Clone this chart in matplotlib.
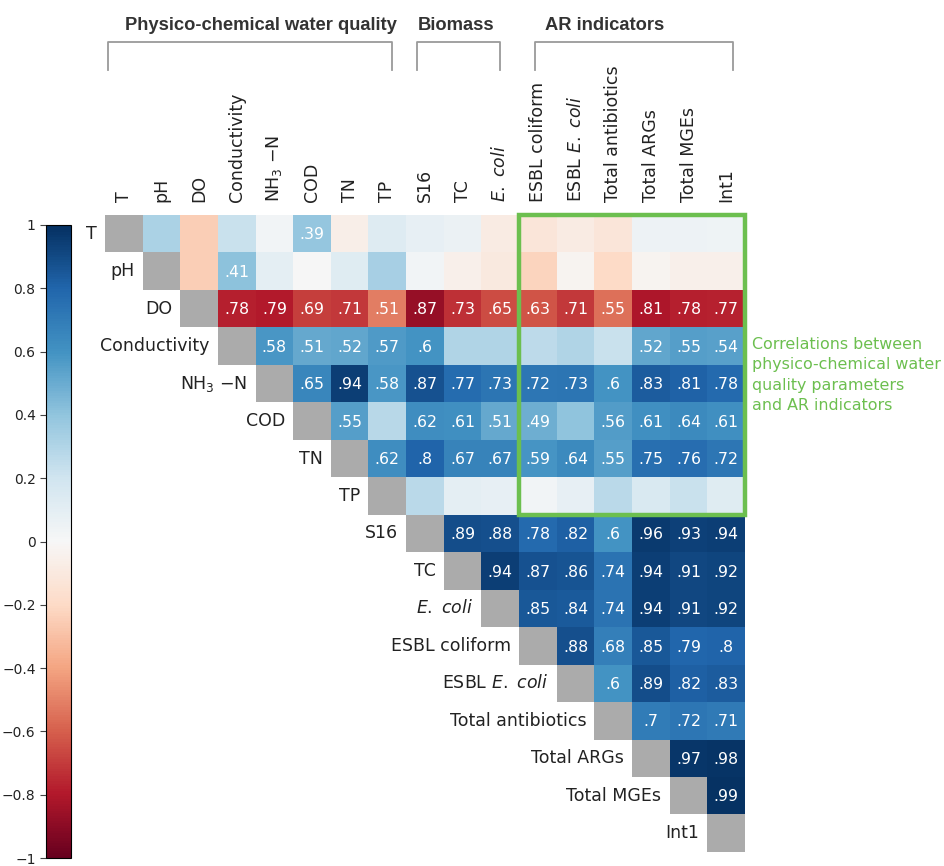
import numpy as np
import matplotlib
matplotlib.use("Agg")
import matplotlib.pyplot as plt
from matplotlib.colors import Normalize, ListedColormap

plt.rcParams['font.family'] = ['DejaVu Sans']
plt.rcParams['mathtext.fontset'] = 'custom'
plt.rcParams['mathtext.rm'] = 'DejaVu Sans'
plt.rcParams['mathtext.it'] = 'DejaVu Sans:italic'

# Variables (rows / columns of the correlation matrix)
variables = ["T", "pH", "DO", "Conductivity", "NH$_3$ \u2212N", "COD", "TN", "TP",
             "S16", "TC", r"$\it{E.}$ $\it{coli}$", "ESBL coliform", r"ESBL $\it{E.}$ $\it{coli}$",
             "Total antibiotics", "Total ARGs", "Total MGEs", "Int1"]

# Upper-triangle Spearman correlations, row by row (columns to the right of the diagonal)
r_T = [0.32, -0.25, 0.22, 0.03, 0.39, -0.06, 0.13, 0.08, 0.06, -0.08, -0.12, -0.08, -0.12, 0.05, 0.05, 0.04]
r_pH = [-0.25, 0.41, 0.10, 0.00, 0.12, 0.33, 0.03, -0.05, -0.10, -0.22, -0.03, -0.20, -0.03, -0.05, -0.05]
r_DO = [-0.78, -0.79, -0.69, -0.71, -0.51, -0.87, -0.73, -0.65, -0.63, -0.71, -0.55, -0.81, -0.78, -0.77]
r_Cond = [0.58, 0.51, 0.52, 0.57, 0.60, 0.30, 0.30, 0.26, 0.30, 0.22, 0.52, 0.55, 0.54]
r_NH3 = [0.65, 0.94, 0.58, 0.87, 0.77, 0.73, 0.72, 0.73, 0.60, 0.83, 0.81, 0.78]
r_COD = [0.55, 0.28, 0.62, 0.61, 0.51, 0.49, 0.40, 0.56, 0.61, 0.64, 0.61]
r_TN = [0.62, 0.80, 0.67, 0.67, 0.59, 0.64, 0.55, 0.75, 0.76, 0.72]
r_TP = [0.27, 0.10, 0.08, 0.03, 0.08, 0.27, 0.15, 0.22, 0.12]
r_S16 = [0.89, 0.88, 0.78, 0.82, 0.60, 0.96, 0.93, 0.94]
r_TC = [0.94, 0.87, 0.86, 0.74, 0.94, 0.91, 0.92]
r_Ecoli = [0.85, 0.84, 0.74, 0.94, 0.91, 0.92]
r_ESBLc = [0.88, 0.68, 0.85, 0.79, 0.80]
r_ESBLe = [0.60, 0.89, 0.82, 0.83]
r_Anti = [0.70, 0.72, 0.71]
r_ARG = [0.97, 0.98]
r_MGE = [0.99]

# Significant correlations (annotated cells), same layout as above
s_T = [0, 0, 0, 0, 1, 0, 0, 0, 0, 0, 0, 0, 0, 0, 0, 0]
s_pH = [0, 1, 0, 0, 0, 0, 0, 0, 0, 0, 0, 0, 0, 0, 0]
s_DO = [1] * 14
s_Cond = [1, 1, 1, 1, 1, 0, 0, 0, 0, 0, 1, 1, 1]
s_NH3 = [1] * 12
s_COD = [1, 0, 1, 1, 1, 1, 0, 1, 1, 1, 1]
s_TN = [1] * 10
s_TP = [0] * 9
s_S16 = [1] * 8
s_TC = [1] * 7
s_Ecoli = [1] * 6
s_ESBLc = [1] * 5
s_ESBLe = [1] * 4
s_Anti = [1] * 3
s_ARG = [1] * 2
s_MGE = [1]

groups = ["Physico-chemical water quality", "Biomass", "AR indicators"]

rows_r = [r_T, r_pH, r_DO, r_Cond, r_NH3, r_COD, r_TN, r_TP, r_S16, r_TC,
          r_Ecoli, r_ESBLc, r_ESBLe, r_Anti, r_ARG, r_MGE]
rows_s = [s_T, s_pH, s_DO, s_Cond, s_NH3, s_COD, s_TN, s_TP, s_S16, s_TC,
          s_Ecoli, s_ESBLc, s_ESBLe, s_Anti, s_ARG, s_MGE]

n = len(variables)
corr = np.full((n, n), np.nan)
sig = np.zeros((n, n), dtype=bool)
for i, (vals, flags) in enumerate(zip(rows_r, rows_s)):
    corr[i, i + 1:] = vals
    sig[i, i + 1:] = np.array(flags, dtype=bool)

W, H = 945, 866
fig = plt.figure(figsize=(W / 100, H / 100), dpi=100)

gx0, gx1, gy0, gy1 = 105, 745, 215, 852
ax = fig.add_axes([gx0 / W, 1 - gy1 / H, (gx1 - gx0) / W, (gy1 - gy0) / H])

cmap = plt.get_cmap("RdBu")
norm = Normalize(-1, 1)
ext = (-0.5, n - 0.5, n - 0.5, -0.5)
im = ax.imshow(np.ma.masked_invalid(corr), cmap=cmap, norm=norm, aspect="auto",
               extent=ext, interpolation="nearest")

# grey diagonal
diag = np.full((n, n), np.nan)
np.fill_diagonal(diag, 1.0)
ax.imshow(np.ma.masked_invalid(diag), cmap=ListedColormap(["#ababab"]),
          aspect="auto", extent=ext, interpolation="nearest")

ax.set_xlim(-0.5, n - 0.5)
ax.set_ylim(n - 0.5, -0.5)
for sp in ax.spines.values():
    sp.set_visible(False)

# cell annotations
for i in range(n):
    for j in range(i + 1, n):
        if sig[i, j]:
            txt = ("%.2f" % abs(corr[i, j])).rstrip("0").lstrip("0")
            ax.text(j, i + 0.03, txt, ha="center", va="center", color="white",
                    fontsize=11.3)

# column labels on top
ax.xaxis.tick_top()
ax.set_xticks(range(n))
ax.set_xticklabels(variables, rotation=90, fontsize=12.5, color="#222222")
ax.tick_params(axis="x", length=0, pad=9)
ax.set_yticks([])

# row labels next to the diagonal
for i, lab in enumerate(variables):
    ax.text(i - 0.72, i, lab, ha="right", va="center", fontsize=12.5, color="#222222")

# group brackets above the column labels
bracket_y, tick_y, title_y = -5.11, -4.37, -5.57
brackets = [(-0.43, 7.12), (7.78, 10.0), (10.93, 16.17)]
title_x = [3.64, 8.82, 12.78]
for (xa, xb), name, tx in zip(brackets, groups, title_x):
    ax.plot([xa, xa, xb, xb], [tick_y, bracket_y, bracket_y, tick_y], color="#9a9a9a",
            lw=1.3, clip_on=False)
    ax.text(tx, title_y, name, ha="center", va="center", fontsize=13.2,
            fontweight="bold", color="#333333", family="Liberation Sans")

# highlight box: water quality vs AR indicators
green = "#6cbf4f"
ax.add_patch(plt.Rectangle((10.5, -0.5), 6.0, 8.0, fill=False, ec=green, lw=3.2,
                           clip_on=False, zorder=5))
fig.text(752 / W, 1 - 337 / H,
         "Correlations between\nphysico-chemical water\nquality parameters\nand AR indicators",
         ha="left", va="top", fontsize=11.4, color=green, linespacing=1.45)

# colourbar
cax = fig.add_axes([46 / W, 1 - 858 / H, 25 / W, (858 - 225) / H])
cb = fig.colorbar(im, cax=cax)
cb.set_ticks(np.linspace(-1, 1, 11))
cb.set_ticklabels(["\u22121", "\u22120.8", "\u22120.6", "\u22120.4", "\u22120.2", "0",
                   "0.2", "0.4", "0.6", "0.8", "1"])
cax.yaxis.set_ticks_position("left")
cax.tick_params(labelsize=10, length=4, color="#444444", labelcolor="#222222")
cb.outline.set_linewidth(0.8)

fig.savefig("out.png", dpi=100)
